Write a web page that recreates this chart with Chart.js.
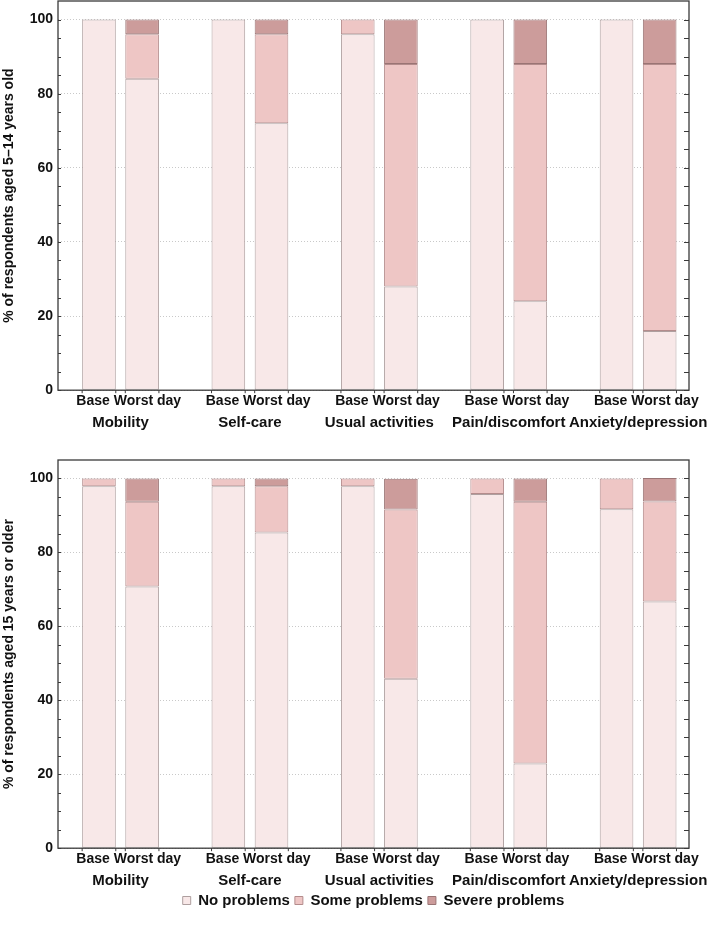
<!DOCTYPE html>
<html lang="en">

<head>
    <meta charset="UTF-8">
    <title>EQ-5D problems: base vs worst day</title>
    <script src="https://cdn.jsdelivr.net/npm/chart.js"></script>
    <style>
        * {
            box-sizing: border-box;
            margin: 0;
            padding: 0;
        }

        body {
            background-color: #fff;
            width: 709px;
        }

        canvas {
            display: block;
        }
    </style>
</head>

<body>
    <canvas id="youngChart" width="709" height="445"></canvas>
    <canvas id="olderChart" width="709" height="494"></canvas>

    <script>
        // categories and tick labels
        const groups = ['Mobility', 'Self-care', 'Usual activities', 'Pain/discomfort', 'Anxiety/depression'];
        const timepoints = ['Base', 'Worst day'];
        const levels = ['No problems', 'Some problems', 'Severe problems'];
        const yTicks = [0, 20, 40, 60, 80, 100];

        // aged 5-14 (bars in order: Base, Worst day for each group)
        const youngNo = [100, 84, 100, 72, 96, 28, 100, 24, 100, 16];
        const youngSome = [0, 12, 0, 24, 4, 60, 0, 64, 0, 72];
        const youngSevere = [0, 4, 0, 4, 0, 12, 0, 12, 0, 12];

        // aged 15+
        const olderNo = [97.9, 70.8, 97.9, 85.4, 97.9, 45.8, 95.8, 22.9, 91.7, 66.7];
        const olderSome = [2.1, 22.9, 2.1, 12.5, 2.1, 45.8, 4.2, 70.8, 8.3, 27.1];
        const olderSevere = [0, 6.3, 0, 2.1, 0, 8.3, 0, 6.3, 0, 6.3];

        const fills = ['#f8e8e8', '#eec6c5', '#cc9c9b'];
        const edges = ['#ae9f9f', '#b48c8c', '#9a7474'];
        const frameColor = '#3a3a3a';
        const fontFamily = "'Liberation Sans', Arial, sans-serif";
        const boldFont = { family: fontFamily, size: 14, weight: 'bold' };

        // slot of each bar on the linear x axis: 1,2 | 4,5 | 7,8 ...
        const slot = i => Math.floor(i / 2) * 3 + 1 + (i % 2);
        const groupCenter = g => g * 3 + 1.5;

        // box round the plot, inward minor ticks, and ticks at bar edges
        const framePlugin = {
            id: 'frame',
            afterDraw(chart) {
                const { ctx, chartArea: a, scales } = chart;
                const y = scales.y;
                ctx.save();
                ctx.strokeStyle = frameColor;
                ctx.lineWidth = 1.3;
                ctx.strokeRect(a.left, a.top, a.right - a.left, a.bottom - a.top);

                ctx.lineWidth = 1;
                ctx.beginPath();
                for (let v = 0; v <= 100; v += 5) {
                    const py = Math.round(y.getPixelForValue(v)) + 0.5;
                    ctx.moveTo(a.left, py);
                    ctx.lineTo(a.left + 3, py);
                    ctx.moveTo(a.right, py);
                    ctx.lineTo(a.right - 5, py);
                }
                const meta = chart.getDatasetMeta(0);
                meta.data.forEach(bar => {
                    const half = bar.width / 2;
                    [bar.x - half, bar.x + half].forEach(px => {
                        ctx.moveTo(px, a.bottom);
                        ctx.lineTo(px, a.bottom + 3);
                    });
                });
                ctx.stroke();
                ctx.restore();
            }
        };

        // let long tick labels hang past the plot edge, and tighten the rows
        const fitAxis = shrink => s => {
            s.paddingLeft = 0;
            s.paddingRight = 0;
            s.height -= shrink;
        };

        function makeChart(id, no, some, severe, yTitle, withLegend) {
            const series = [no, some, severe];
            const datasets = series.map((vals, k) => ({
                label: levels[k],
                data: vals.map((v, i) => ({ x: slot(i), y: v === 0 ? null : v })),
                backgroundColor: fills[k],
                borderColor: edges[k],
                borderWidth: 1,
                borderSkipped: false,
                categoryPercentage: 1,
                barPercentage: 0.78
            }));

            const xRange = { type: 'linear', min: 0.05, max: 14.68, offset: false, position: 'bottom' };

            return new Chart(document.getElementById(id), {
                type: 'bar',
                data: { datasets },
                options: {
                    responsive: false,
                    animation: false,
                    devicePixelRatio: 1,
                    layout: {
                        padding: withLegend
                            ? { top: 15, right: 20, left: 0, bottom: 21 }
                            : { top: 1, right: 20, left: 0, bottom: 15 }
                    },
                    scales: {
                        x: {
                            ...xRange,
                            stacked: true,
                            grid: { display: false, drawTicks: false },
                            border: { display: false },
                            afterBuildTicks: s => { s.ticks = groups.map((_, g) => ({ value: groupCenter(g) + 0.19 })); },
                            afterFit: fitAxis(3),
                            ticks: {
                                autoSkip: false,
                                maxRotation: 0,
                                padding: 3,
                                color: '#111',
                                font: boldFont,
                                callback: () => timepoints.join(' ')
                            }
                        },
                        xGroup: {
                            ...xRange,
                            grid: { display: false, drawTicks: false },
                            border: { display: false },
                            afterBuildTicks: s => { s.ticks = groups.map((_, g) => ({ value: groupCenter(g) })); },
                            afterFit: fitAxis(6),
                            ticks: {
                                autoSkip: false,
                                maxRotation: 0,
                                padding: 4,
                                color: '#111',
                                font: { family: fontFamily, size: 15, weight: 'bold' },
                                callback: (v, i) => groups[i]
                            }
                        },
                        y: {
                            stacked: true,
                            min: 0,
                            max: 105,
                            afterBuildTicks: s => { s.ticks = yTicks.map(v => ({ value: v })); },
                            afterFit: s => {
                                s.width = 58;
                                s.paddingTop = 0;
                                s.paddingBottom = 0;
                            },
                            grid: { color: '#c9c9c9', drawTicks: false, lineWidth: 1 },
                            border: { display: false, dash: [1, 2] },
                            ticks: {
                                padding: 5,
                                color: '#111',
                                font: boldFont
                            },
                            title: {
                                display: true,
                                text: yTitle,
                                color: '#111',
                                font: boldFont,
                                padding: { top: 1, bottom: 0 }
                            }
                        }
                    },
                    plugins: {
                        legend: {
                            display: withLegend,
                            position: 'bottom',
                            fullSize: false,
                            labels: {
                                boxWidth: 8,
                                boxHeight: 8,
                                padding: 5,
                                color: '#111',
                                font: { family: fontFamily, size: 15, weight: 'bold' }
                            }
                        },
                        tooltip: { enabled: false }
                    }
                },
                plugins: [framePlugin]
            });
        }

        makeChart('youngChart', youngNo, youngSome, youngSevere, '% of respondents aged 5\u201314 years old', false);
        makeChart('olderChart', olderNo, olderSome, olderSevere, '% of respondents aged 15 years or older', true);
    </script>
</body>

</html>
